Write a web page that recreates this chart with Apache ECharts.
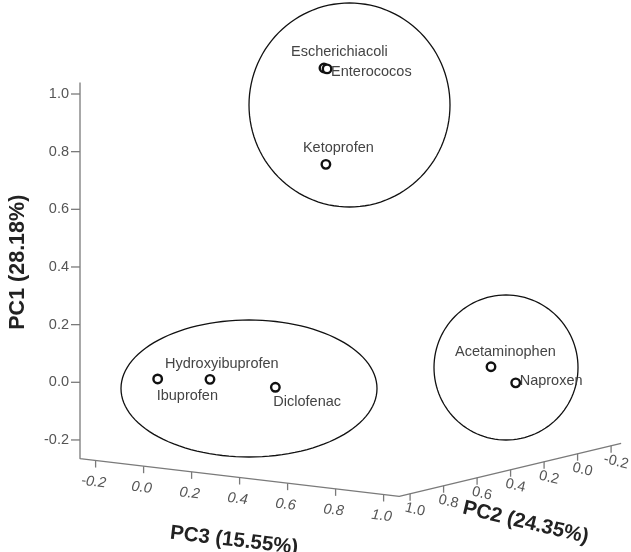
<!DOCTYPE html>
<html><head><meta charset="utf-8">
<script src="https://cdn.jsdelivr.net/npm/echarts@6/dist/echarts.min.js"></script>
<style>html,body{margin:0;padding:0;background:#fff}#c{width:631px;height:552px}</style>
</head><body><div id="c"></div>
<script>
// ---- data ----
const names = ['Escherichiacoli','Enterococos','Ketoprofen','Acetaminophen','Naproxen','Ibuprofen','Hydroxyibuprofen','Diclofenac'];
const pc1 = [0.990, 0.984, 0.667, 0.022, -0.034, 0.026, 0.011, -0.041];
const pc2 = [0.100, 0.080, 0.150, 0.100, 0.050, 0.981, 0.812, 0.565];
const pc3 = [0.078, 0.077, 0.121, 0.774, 0.842, 0.000, 0.100, 0.200];
const tickValues = [-0.2, 0.0, 0.2, 0.4, 0.6, 0.8, 1.0];
const tickLabels = ['-0.2','0.0','0.2','0.4','0.6','0.8','1.0'];
const axisTitlePC1 = 'PC1 (28.18%)';
const axisTitlePC2 = 'PC2 (24.35%)';
const axisTitlePC3 = 'PC3 (15.55%)';
const rangePC1 = [-0.265, 1.04];
const rangePC2 = [-0.26, 1.065];
const rangePC3 = [-0.265, 1.065];

// ---- 3D view (oblique projection onto the chart plane) ----
const view = { ox: 80, oy: 458.7, e1: [0, -288.3], e2: [-167.5, 40], e3: [240, 28.3] };
function proj(a, b, c) {
  const da = a - rangePC1[0], db = b - rangePC2[1], dc = c - rangePC3[0];
  return [view.ox + da*view.e1[0] + db*view.e2[0] + dc*view.e3[0],
          view.oy + da*view.e1[1] + db*view.e2[1] + dc*view.e3[1]];
}
const FONT = 'Liberation Sans, Arial, sans-serif';

const axisPath = [
  proj(rangePC1[1], rangePC2[1], rangePC3[0]),
  proj(rangePC1[0], rangePC2[1], rangePC3[0]),
  proj(rangePC1[0], rangePC2[1], rangePC3[1]),
  proj(rangePC1[0], rangePC2[0], rangePC3[1])
];

// tick items: [axisIndex, valueIndex]
const tickItems = [];
for (let ax = 0; ax < 3; ax++) for (let i = 0; i < tickValues.length; i++) tickItems.push([ax, i]);

const labelPlace = {
  'Escherichiacoli': [-33, -15.5], 'Enterococos': [4, 3.5], 'Ketoprofen': [-23, -16],
  'Acetaminophen': [-36, -15], 'Naproxen': [4, -2], 'Ibuprofen': [-1, 17],
  'Hydroxyibuprofen': [-45, -15], 'Diclofenac': [-2, 15]
};
const points = names.map((n, i) => ({
  value: proj(pc1[i], pc2[i], pc3[i]),
  name: n,
  label: { offset: labelPlace[n] }
}));

const ellipses = [
  { cx: 349.5, cy: 105, rx: 100.5, ry: 102 },
  { cx: 249, cy: 388.5, rx: 128, ry: 68.5 },
  { cx: 506, cy: 367.5, rx: 72, ry: 72.5 }
];

const chart = echarts.init(document.getElementById('c'), null, { renderer: 'canvas' });
chart.setOption({
  animation: false,
  backgroundColor: '#fff',
  grid: { left: 0, right: 0, top: 0, bottom: 0 },
  xAxis: { type: 'value', min: 0, max: 631, show: false },
  yAxis: { type: 'value', min: 0, max: 552, inverse: true, show: false },
  series: [
    { // cluster outlines
      type: 'custom', silent: true, z: 1,
      data: ellipses.map((e, i) => [i]),
      renderItem: function (params, api) {
        const e = ellipses[api.value(0)];
        const pts = [];
        for (let k = 0; k < 120; k++) {
          const t = k / 120 * Math.PI * 2;
          pts.push(api.coord([e.cx + e.rx * Math.cos(t), e.cy + e.ry * Math.sin(t)]));
        }
        return { type: 'polygon', shape: { points: pts }, style: { fill: 'none', stroke: '#111', lineWidth: 1.3 } };
      }
    },
    { // axes lines
      type: 'line', data: axisPath, symbol: 'none', silent: true, z: 2,
      lineStyle: { color: '#7a7a7a', width: 1.3 }
    },
    { // ticks + tick labels
      type: 'custom', silent: true, z: 3,
      data: tickItems,
      renderItem: function (params, api) {
        const ax = api.value(0), i = api.value(1);
        const v = tickValues[i];
        let p, tick, lab, rot, align, style = 'normal';
        if (ax === 0) {
          p = api.coord(proj(v, rangePC2[1], rangePC3[0]));
          tick = [p[0] - 9, p[1]]; lab = [p[0] - 11, p[1]]; rot = 0; align = 'right';
        } else if (ax === 1) {
          p = api.coord(proj(rangePC1[0], rangePC2[1], v));
          tick = [p[0], p[1] + 7]; lab = [p[0] - 2, p[1] + 21.5]; rot = -Math.atan2(view.e3[1], view.e3[0]); align = 'center'; style = 'italic';
        } else {
          p = api.coord(proj(rangePC1[0], v, rangePC3[1]));
          tick = [p[0], p[1] + 7]; lab = [p[0] + 5, p[1] + 16]; rot = Math.atan2(-view.e2[1], -view.e2[0]); align = 'center';
        }
        return { type: 'group', children: [
          { type: 'line', shape: { x1: p[0], y1: p[1], x2: tick[0], y2: tick[1] }, style: { stroke: '#7a7a7a', lineWidth: 1.3 } },
          { type: 'text', x: lab[0], y: lab[1], rotation: rot,
            style: { text: tickLabels[i], fill: '#555', fontSize: 14.5, fontFamily: FONT, fontStyle: style, align: align, verticalAlign: 'middle' } }
        ]};
      }
    },
    { // axis titles
      type: 'custom', silent: true, z: 3,
      data: [[0], [1], [2]],
      renderItem: function (params, api) {
        const ax = api.value(0);
        let p, t, rot;
        if (ax === 0) { p = api.coord(proj(0.42, rangePC2[1], rangePC3[0])); p = [p[0] - 61.5, p[1] + 1]; t = axisTitlePC1; rot = Math.PI / 2; }
        else if (ax === 1) { p = api.coord(proj(rangePC1[0], rangePC2[1], 0.4)); p = [p[0] - 5.5, p[1] + 63]; t = axisTitlePC3; rot = -Math.atan2(view.e3[1], view.e3[0]); }
        else { p = api.coord(proj(rangePC1[0], 0.4, rangePC3[1])); p = [p[0] + 15, p[1] + 53]; t = axisTitlePC2; rot = Math.atan2(-view.e2[1], -view.e2[0]); }
        return { type: 'text', x: p[0], y: p[1], rotation: rot,
          style: { text: t, fill: '#222', fontSize: ax === 0 ? 21.5 : 20.5, fontWeight: 'bold', fontFamily: FONT, align: 'center', verticalAlign: 'middle' } };
      }
    },
    { // points
      type: 'scatter', data: points, z: 5,
      symbol: 'circle', symbolSize: 8.5,
      itemStyle: { color: '#fff', borderColor: '#111', borderWidth: 2.4, opacity: 1 },
      label: { show: true, position: 'inside', align: 'left', verticalAlign: 'middle',
        formatter: '{b}', color: '#444', fontSize: 14.5, fontFamily: FONT }
    }
  ]
});
</script></body></html>
